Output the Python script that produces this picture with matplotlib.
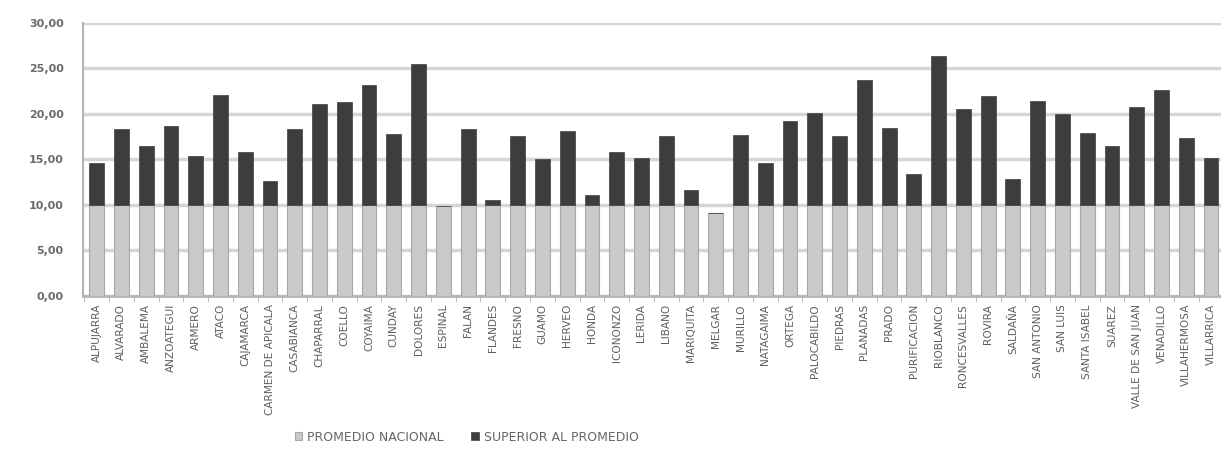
import matplotlib
matplotlib.use("Agg")
import matplotlib.pyplot as plt
import numpy as np

municipios = ["ALPUJARRA", "ALVARADO", "AMBALEMA", "ANZOATEGUI", "ARMERO", "ATACO",
              "CAJAMARCA", "CARMEN DE APICALA", "CASABIANCA", "CHAPARRAL", "COELLO",
              "COYAIMA", "CUNDAY", "DOLORES", "ESPINAL", "FALAN", "FLANDES", "FRESNO",
              "GUAMO", "HERVEO", "HONDA", "ICONONZO", "LERIDA", "LIBANO", "MARIQUITA",
              "MELGAR", "MURILLO", "NATAGAIMA", "ORTEGA", "PALOCABILDO", "PIEDRAS",
              "PLANADAS", "PRADO", "PURIFICACION", "RIOBLANCO", "RONCESVALLES", "ROVIRA",
              "SALDAÑA", "SAN ANTONIO", "SAN LUIS", "SANTA ISABEL", "SUAREZ",
              "VALLE DE SAN JUAN", "VENADILLO", "VILLAHERMOSA", "VILLARRICA"]
valores = [14.6, 18.3, 16.4, 18.6, 15.3, 22.1, 15.8, 12.6, 18.3, 21.1, 21.3,
           23.1, 17.8, 25.5, 9.9, 18.3, 10.5, 17.6, 15.0, 18.1, 11.1, 15.8,
           15.1, 17.6, 11.6, 9.1, 17.7, 14.6, 19.2, 20.1, 17.5, 23.7, 18.4,
           13.4, 26.3, 20.5, 21.9, 12.8, 21.4, 20.0, 17.9, 16.5, 20.7, 22.6,
           17.3, 15.1]
promedio_nacional = 10.0
yticks = [0, 5, 10, 15, 20, 25, 30]
ytick_labels = ["0,00", "5,00", "10,00", "15,00", "20,00", "25,00", "30,00"]
serie_labels = ["PROMEDIO NACIONAL", "SUPERIOR AL PROMEDIO"]

vals = np.array(valores)
base = np.minimum(vals, promedio_nacional)
extra = np.maximum(vals - promedio_nacional, 0)

fig = plt.figure(figsize=(12.21, 4.71), dpi=100)
ax = fig.add_axes([0.068, 0.372, 0.935, 0.58])

x = np.arange(len(municipios))
ax.bar(x, base, width=0.6, color="#c9c9c9", edgecolor="#a8a8a8", linewidth=0.8,
       label=serie_labels[0], zorder=3)
ax.bar(x, extra, bottom=base, width=0.6, color="#3d3d3d", edgecolor="#3d3d3d",
       linewidth=0.5, label=serie_labels[1], zorder=3)

ax.set_ylim(0, 30)
ax.set_xlim(-0.55, len(municipios) - 0.45)
ax.set_yticks(yticks)
ax.set_yticklabels(ytick_labels, fontsize=8, color="#6a6a6a", fontweight="bold")
ax.yaxis.grid(True, color="#d6d6d6", linewidth=2.5, zorder=0)
ax.set_axisbelow(True)
ax.tick_params(axis="y", length=0, pad=14)

ax.set_xticks(x)
ax.set_xticklabels(municipios, rotation=90, fontsize=7.6, color="#5e5e5e")
ax.set_xticks(np.arange(-0.5, len(municipios), 1), minor=True)
ax.tick_params(axis="x", which="major", length=0, pad=6)
ax.tick_params(axis="x", which="minor", length=4, color="#b0b0b0")

for side in ["top", "right"]:
    ax.spines[side].set_visible(False)
ax.spines["left"].set_color("#b5b5b5")
ax.spines["left"].set_linewidth(1.5)
ax.spines["bottom"].set_color("#b5b5b5")
ax.spines["bottom"].set_linewidth(2)

leg = fig.legend(loc="center left", bbox_to_anchor=(0.232, 0.072), ncol=2, frameon=False,
                 fontsize=9, handlelength=0.6, handleheight=0.6, columnspacing=2.2,
                 handletextpad=0.4)
for t in leg.get_texts():
    t.set_color("#666666")

fig.savefig("out.png", dpi=100)
